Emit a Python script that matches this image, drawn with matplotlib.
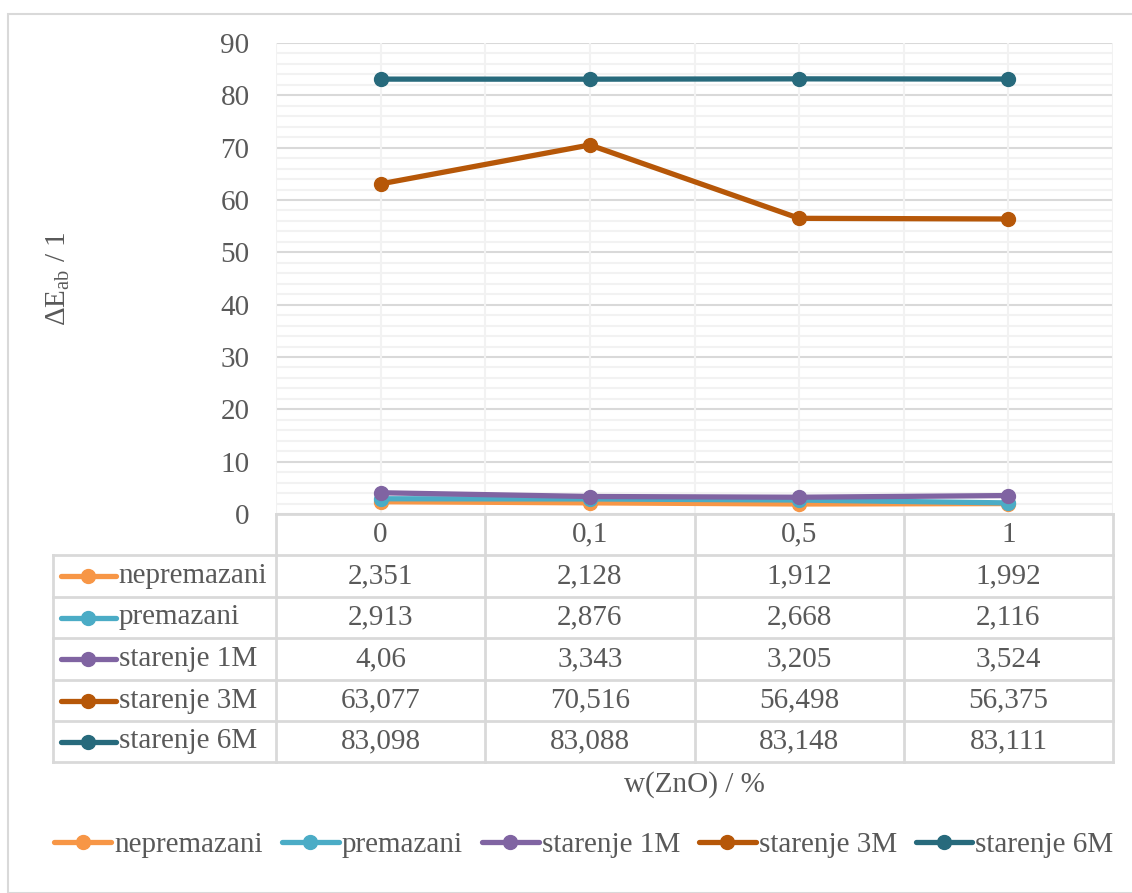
import matplotlib
matplotlib.use("Agg")
import matplotlib.pyplot as plt
import matplotlib.transforms as mtransforms
from matplotlib.lines import Line2D
from matplotlib.patches import Rectangle

# data
categories = ["0", "0,1", "0,5", "1"]
series_names = ["nepremazani", "premazani", "starenje 1M", "starenje 3M", "starenje 6M"]
nepremazani = [2.351, 2.128, 1.912, 1.992]
premazani = [2.913, 2.876, 2.668, 2.116]
starenje_1m = [4.06, 3.343, 3.205, 3.524]
starenje_3m = [63.077, 70.516, 56.498, 56.375]
starenje_6m = [83.098, 83.088, 83.148, 83.111]
series_values = [nepremazani, premazani, starenje_1m, starenje_3m, starenje_6m]
colors = ["#F79646", "#4BACC6", "#8064A2", "#B65708", "#276A7C"]

plt.rcParams["font.family"] = ["Liberation Serif", "DejaVu Serif"]
txt = "#595959"
grid_major = "#D9D9D9"
grid_minor = "#F2F2F2"
fs = 21

W, H = 1132, 893
fig = plt.figure(figsize=(W / 100, H / 100), dpi=100)

# outer chart border
fig.patches.append(Rectangle((8 / W, 0), 1, 1 - 14 / H, transform=fig.transFigure,
                             fill=False, edgecolor="#D9D9D9", lw=1.5))

left, right, top, bottom = 276, 1113, 43, 514
ax = fig.add_axes([left / W, 1 - bottom / H, (right - left) / W, (bottom - top) / H])

x = list(range(len(categories)))
ax.set_xlim(-0.5, len(categories) - 0.5)
ax.set_ylim(0, 90)

# gridlines
for v in range(0, 91, 2):
    ax.axhline(v, color=grid_major if v % 10 == 0 else grid_minor, lw=1.5, zorder=0)
for i in x:
    ax.axvline(i, color=grid_minor, lw=1.5, zorder=0)
    ax.axvline(i + 0.5, color=grid_minor, lw=1.5, zorder=0)
ax.axvline(-0.5, color=grid_minor, lw=1.5, zorder=0)

for name, vals, c in zip(series_names, series_values, colors):
    ax.plot(x, vals, color=c, lw=3.8, marker="o", markersize=10, label=name,
            solid_capstyle="round", zorder=3)

for s in ax.spines.values():
    s.set_visible(False)
ax.set_xticks([])
ax.set_yticks(range(0, 91, 10))
ax.tick_params(axis="y", length=0, pad=19, labelsize=fs, labelcolor=txt)
ax.set_ylabel("ΔE$_{\\mathregular{ab}}$ / 1", fontsize=fs, color=txt, labelpad=0)
ax.yaxis.set_label_coords((72 - left) / (right - left), 0.5)

# data table below the plot
trans = mtransforms.blended_transform_factory(ax.transData, ax.transAxes)
ph = bottom - top
row_px = [514, 555, 597, 638, 680, 721, 762]
row_y = [-(p - bottom) / ph for p in row_px]
leg_x0 = -0.5 - (left - 53) / 209
xr = len(categories) - 0.5
tl = dict(color=grid_major, lw=2, transform=trans, clip_on=False)

# horizontal lines
ax.add_line(Line2D([-0.5, xr], [row_y[0]] * 2, **tl))
for yy in row_y[1:]:
    ax.add_line(Line2D([leg_x0, xr], [yy] * 2, **tl))
# vertical lines
ax.add_line(Line2D([leg_x0, leg_x0], [row_y[1], row_y[-1]], **tl))
for i in range(len(categories) + 1):
    ax.add_line(Line2D([i - 0.5] * 2, [row_y[0], row_y[-1]], **tl))

for i, cat in enumerate(categories):
    ax.text(i, (row_y[0] + row_y[1]) / 2, cat, transform=trans, ha="center",
            va="center", fontsize=fs, color=txt)

for r, (name, vals, c) in enumerate(zip(series_names, series_values, colors)):
    yc = (row_y[r + 1] + row_y[r + 2]) / 2
    for i, v in enumerate(vals):
        ax.text(i, yc, f"{v:g}".replace(".", ","), transform=trans, ha="center",
                va="center", fontsize=fs, color=txt)
    hx0 = leg_x0 + 8 / 209
    hx1 = leg_x0 + 63 / 209
    ax.add_line(Line2D([hx0, hx1], [yc, yc], color=c, lw=3.8, transform=trans,
                       clip_on=False, solid_capstyle="round"))
    ax.add_line(Line2D([(hx0 + hx1) / 2], [yc], color=c, marker="o", markersize=10,
                       transform=trans, clip_on=False))
    ax.text(hx1 + 3 / 209, yc, name, transform=trans, ha="left", va="center",
            fontsize=fs, color=txt)

fig.text((left + right) / 2 / W, 1 - 785 / H, "w(ZnO) / %", ha="center",
         va="center", fontsize=fs, color=txt)

handles, labels = ax.get_legend_handles_labels()
fig.legend(handles, labels, loc="center", bbox_to_anchor=(584 / W, 1 - 845 / H),
           ncol=5, frameon=False, fontsize=fs, labelcolor=txt, handlelength=1.95,
           handletextpad=0.1, columnspacing=0.65)

fig.savefig("out.png", dpi=100)
